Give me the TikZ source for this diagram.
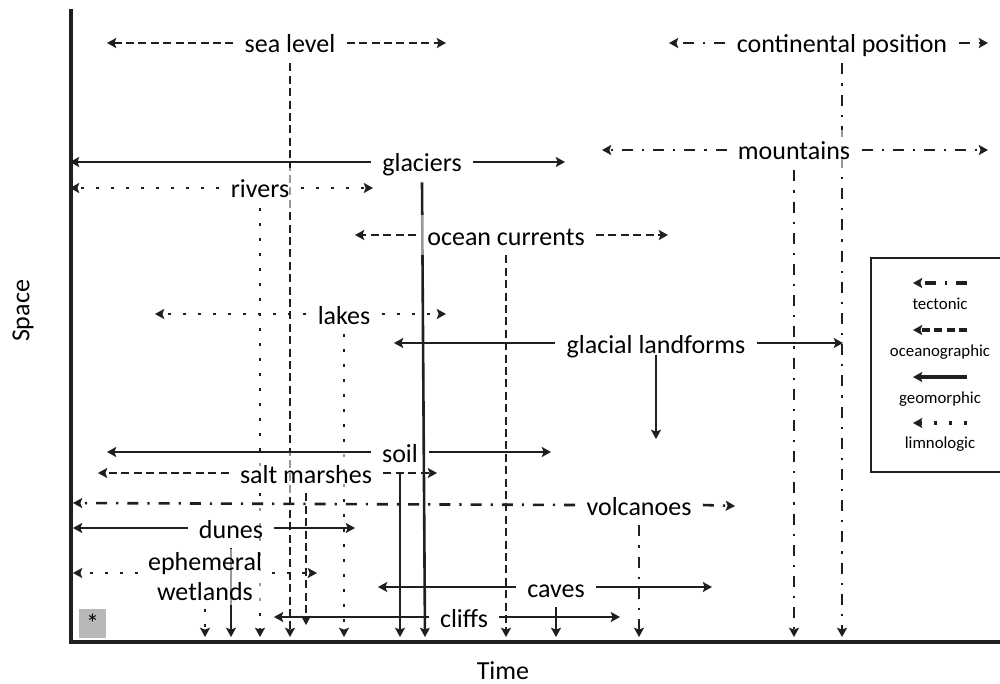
\documentclass[tikz,border=0pt]{standalone}
\usepackage{fontspec}
\setmainfont{Carlito}
\usetikzlibrary{arrows.meta,backgrounds}
\begin{document}
\begin{tikzpicture}[x=0.5pt,y=-0.5pt,
  conn/.style={line width=1.3pt, draw=black!88, -{Stealth[length=4.6pt,width=5pt,inset=0.9pt]}},
  tect/.style={conn, dash pattern=on 5.5pt off 4.5pt on 1.1pt off 4.5pt},
  ocean/.style={conn, dash pattern=on 4pt off 2.2pt},
  geo/.style={conn},
  limn/.style={conn, dash pattern=on 1.5pt off 6pt},
  lab/.style={font=\fontsize{13pt}{15pt}\selectfont, text height=13pt, text depth=3pt,
    inner xsep=5.5pt, inner ysep=2pt, fill=white, fill opacity=0.55, text opacity=1, anchor=base},
  labmulti/.style={font=\fontsize{13pt}{15pt}\selectfont, align=center,
    inner xsep=5pt, inner ysep=2pt, fill=white, fill opacity=0.55, text opacity=1},
  legtext/.style={font=\fontsize{8.4pt}{10pt}\selectfont, anchor=base, inner sep=0pt},
  legline/.style={line width=1.7pt},
  axis/.style={line width=1.6pt, draw=black!88}
]
\useasboundingbox (0,0) rectangle (1000,684);

% axes
\coordinate (ytop) at (71,9);
\coordinate (orig) at (71,642);
\coordinate (xend) at (1000,642);
\draw[axis] (ytop) -- (orig) -- (xend);
\node[font=\fontsize{13pt}{15pt}\selectfont, rotate=90] (space) at (23,311) {Space};
\node[font=\fontsize{13pt}{15pt}\selectfont, anchor=base] (time) at (503,679) {Time};

% labels
\node[lab] (sl) at (290,53) {sea level};
\node[lab] (cp) at (842,53) {continental position};
\node[lab] (mt) at (794,160) {mountains};
\node[lab] (gl) at (422,172) {glaciers};
\node[lab] (rv) at (260,198) {rivers};
\node[lab] (oc) at (506,245) {ocean currents};
\node[lab] (lk) at (344,324) {lakes};
\node[lab] (gf) at (656,353) {glacial landforms};
\node[lab, fill=none] (so) at (400,462) {soil};
\node[lab] (sm) at (306,483) {salt marshes};
\node[lab] (vo) at (639,515) {volcanoes};
\node[lab] (du) at (231,538) {dunes};
\node[labmulti] (ew) at (205,577) {ephemeral\\wetlands};
\node[lab] (cv) at (556,597) {caves};
\node[lab] (cf) at (464,627) {cliffs};

% vertical connectors (behind the labels)
\coordinate (bot) at (0,637);
\coordinate (bottwo) at (0,625);
\coordinate (glB) at (425,637);
\coordinate (gfB) at (0,439);
\begin{pgfonlayer}{background}
\draw[ocean] (sl.south) -- (sl.south |- bot);
\draw[tect] (cp.south) -- (cp.south |- bot);
\draw[tect] (mt.south) -- (mt.south |- bot);
\draw[geo] (gl.south) -- (glB);
\draw[limn] (rv.south) -- (rv.south |- bot);
\draw[ocean] (oc.south) -- (oc.south |- bot);
\draw[limn] (lk.south) -- (lk.south |- bot);
\draw[geo] (so.south) -- (so.south |- bot);
\draw[ocean] (sm.south) -- (sm.south |- bottwo);
\draw[tect] (vo.south) -- (vo.south |- bot);
\draw[geo] (du.south) -- (du.south |- bot);
\draw[limn] ([yshift=-1.5pt]ew.south) -- (ew.south |- bot);
\draw[geo] (cv.south) -- (cv.south |- bot);
\end{pgfonlayer}
\draw[geo] ([yshift=4pt]gf.south) -- (gf.south |- gfB);

% horizontal connectors
\coordinate (slL) at (107,43);  \coordinate (slR) at (446,43);
\coordinate (cpL) at (669,43);  \coordinate (cpR) at (988,43);
\coordinate (mtL) at (602,150); \coordinate (mtR) at (988,150);
\coordinate (glL) at (70,162);  \coordinate (glR) at (565,162);
\coordinate (rvL) at (70,188);  \coordinate (rvR) at (373,188);
\coordinate (ocL) at (355,235); \coordinate (ocR) at (668,235);
\coordinate (lkL) at (155,314); \coordinate (lkR) at (446,314);
\coordinate (gfL) at (394,343); \coordinate (gfR) at (843,343);
\coordinate (soL) at (107,452); \coordinate (soR) at (551,452);
\coordinate (smL) at (98,473);  \coordinate (smR) at (437,473);
\coordinate (voL) at (73,503);  \coordinate (voR) at (735,506);
\coordinate (duL) at (73,528);  \coordinate (duR) at (355,528);
\coordinate (ewL) at (73,573);  \coordinate (ewR) at (317,573);
\coordinate (cvL) at (378,587); \coordinate (cvR) at (712,587);
\coordinate (cfL) at (274,617); \coordinate (cfR) at (620,617);
\draw[ocean] (sl.west) -- (slL); \draw[ocean] (sl.east) -- (slR);
\draw[tect] (cp.west) -- (cpL);  \draw[tect] (cp.east) -- (cpR);
\draw[tect] (mt.west) -- (mtL);  \draw[tect] (mt.east) -- (mtR);
\draw[geo] (gl.west) -- (glL);   \draw[geo] (gl.east) -- (glR);
\draw[limn] (rv.west) -- (rvL);  \draw[limn] (rv.east) -- (rvR);
\draw[ocean] (oc.west) -- (ocL); \draw[ocean] (oc.east) -- (ocR);
\draw[limn] (lk.west) -- (lkL);  \draw[limn] (lk.east) -- (lkR);
\draw[geo] (gf.west) -- (gfL);   \draw[geo] (gf.east) -- (gfR);
\draw[geo] (so.west) -- (soL);   \draw[geo] (so.east) -- (soR);
\draw[ocean] (sm.west) -- (smL); \draw[ocean] (sm.east) -- (smR);
\draw[tect] (vo.west) -- (voL);  \draw[tect] (vo.east) -- (voR);
\draw[geo] (du.west) -- (duL);   \draw[geo] (du.east) -- (duR);
\draw[limn] (ew.west |- ewL) -- (ewL); \draw[limn] (ew.east |- ewR) -- (ewR);
\draw[geo] (cv.west) -- (cvL);   \draw[geo] (cv.east) -- (cvR);
\draw[geo] (cf.west) -- (cfL);   \draw[geo] (cf.east) -- (cfR);

% asterisk box
\node[fill=black!28, minimum width=13.5pt, minimum height=14.5pt, inner sep=0pt,
  font=\fontsize{13pt}{15pt}\selectfont] (ast) at (92.5,623.5) {\raisebox{-0.25em}{*}};

% legend
\coordinate (lgTR) at (1000,258); \coordinate (lgTL) at (871,258);
\coordinate (lgBL) at (871,472);  \coordinate (lgBR) at (1000,472);
\draw[line width=0.9pt, black!88] (lgTR) -- (lgTL) -- (lgBL) -- (lgBR);
\coordinate (ltR) at (967,283); \coordinate (ltL) at (913,283);
\coordinate (loR) at (967,330); \coordinate (loL) at (913,330);
\coordinate (lgmR) at (967,377); \coordinate (lgmL) at (913,377);
\coordinate (llR) at (967,423); \coordinate (llL) at (913,423);
\draw[tect, legline] (ltR) -- (ltL);
\draw[ocean, legline] (loR) -- (loL);
\draw[geo, legline] (lgmR) -- (lgmL);
\draw[limn, legline] (llR) -- (llL);
\node[legtext] (lt) at (940,309) {tectonic};
\node[legtext] (lo) at (940,356) {oceanographic};
\node[legtext] (lgm) at (940,403) {geomorphic};
\node[legtext] (ll) at (940,448) {limnologic};
\end{tikzpicture}
\end{document}
